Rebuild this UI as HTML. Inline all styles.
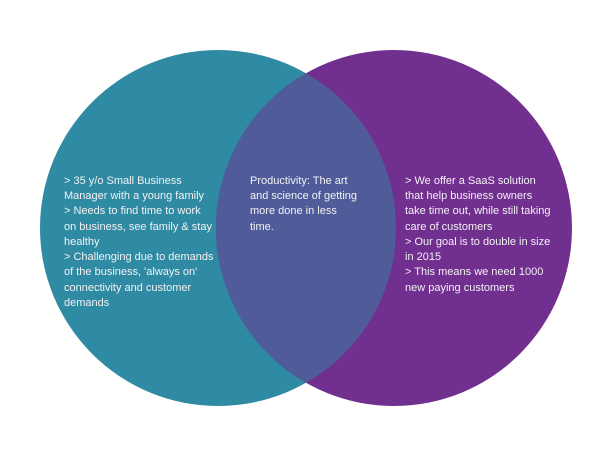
<!DOCTYPE html>
<html><head><style>
html,body{margin:0;padding:0;background:#fff;}
svg text{font-family:"Liberation Sans",sans-serif;font-size:11px;fill:#f2f2f2;}
</style></head><body>
<svg width="600" height="450" viewBox="0 0 600 450" xmlns="http://www.w3.org/2000/svg">
<defs><clipPath id="c"><circle cx="218" cy="228" r="178"/></clipPath></defs>
<circle cx="218" cy="228" r="178" fill="#2F8AA3"/>
<circle cx="394" cy="228" r="178" fill="#712F8F"/>
<circle cx="394" cy="228" r="178" fill="#505C9A" clip-path="url(#c)"/>
<text x="64" y="184">&gt; 35 y/o Small Business</text>
<text x="64" y="199">Manager with a young family</text>
<text x="64" y="214">&gt; Needs to find time to work</text>
<text x="64" y="230">on business, see family &amp; stay</text>
<text x="64" y="245">healthy</text>
<text x="64" y="260">&gt; Challenging due to demands</text>
<text x="64" y="275">of the business, 'always on'</text>
<text x="64" y="291">connectivity and customer</text>
<text x="64" y="306">demands</text>
<text x="250" y="184">Productivity: The art</text>
<text x="250" y="199">and science of getting</text>
<text x="250" y="214">more done in less</text>
<text x="250" y="230">time.</text>
<text x="405" y="184">&gt; We offer a SaaS solution</text>
<text x="405" y="199">that help business owners</text>
<text x="405" y="214">take time out, while still taking</text>
<text x="405" y="230">care of customers</text>
<text x="405" y="245">&gt; Our goal is to double in size</text>
<text x="405" y="260">in 2015</text>
<text x="405" y="275">&gt; This means we need 1000</text>
<text x="405" y="291">new paying customers</text>
</svg>
</body></html>
